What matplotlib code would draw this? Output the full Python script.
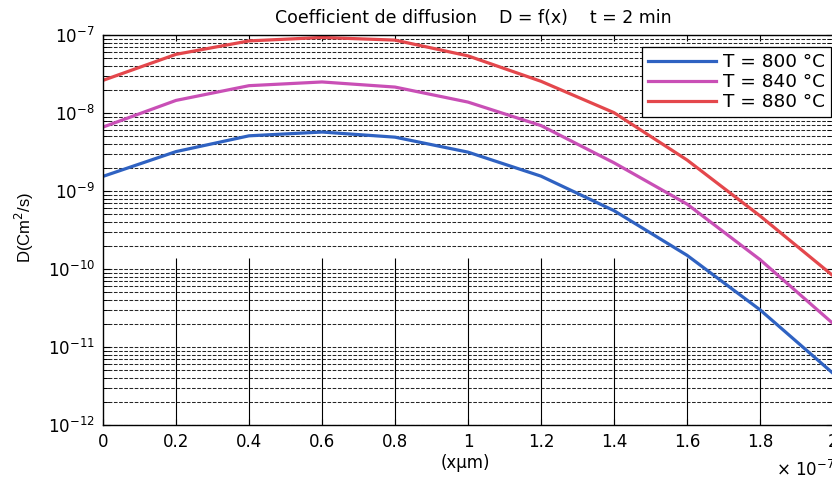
import math
import matplotlib
matplotlib.use("Agg")
import matplotlib.pyplot as plt
from matplotlib.ticker import LogLocator, FixedLocator, FuncFormatter, NullFormatter

# Depth (units of 1e-7 m, i.e. 0..0.2 µm)
x = [0.0, 0.2, 0.4, 0.6, 0.8, 1.0, 1.2, 1.4, 1.6, 1.8, 2.0]

# Diffusion coefficient D (cm^2/s) at three temperatures
d_800 = [1.54e-9, 3.2e-9, 5.1e-9, 5.7e-9, 4.9e-9, 3.15e-9, 1.55e-9,
         5.6e-10, 1.5e-10, 3.0e-11, 4.6e-12]
d_840 = [6.6e-9, 1.45e-8, 2.24e-8, 2.5e-8, 2.15e-8, 1.38e-8, 6.9e-9,
         2.3e-9, 6.8e-10, 1.32e-10, 2.0e-11]
d_880 = [2.62e-8, 5.65e-8, 8.4e-8, 9.3e-8, 8.6e-8, 5.4e-8, 2.55e-8,
         1.01e-8, 2.5e-9, 4.8e-10, 8.2e-11]

labels = ["T = 800 °C", "T = 840 °C", "T = 880 °C"]
colors = ["#2f62c2", "#c94fb6", "#e4474c"]

x_ticks = [0, 0.2, 0.4, 0.6, 0.8, 1, 1.2, 1.4, 1.6, 1.8, 2]
x_tick_labels = ["0", "0.2", "0.4", "0.6", "0.8", "1", "1.2", "1.4", "1.6", "1.8", "2"]
y_ticks = [1e-12, 1e-11, 1e-10, 1e-9, 1e-8, 1e-7]

plt.rcParams["font.family"] = ["DejaVu Sans"]
plt.rcParams["mathtext.fontset"] = "dejavusans"

fig = plt.figure(figsize=(8.32, 4.78), dpi=100)
ax = fig.add_axes([103 / 832, 53 / 478, 730 / 832, 390 / 478])

ax.set_yscale("log")
ax.set_xlim(0, 2)
ax.set_ylim(1e-12, 1e-7)

# horizontal dashed grid on every decade and sub-decade
ax.yaxis.set_major_locator(FixedLocator(y_ticks))
ax.yaxis.set_minor_locator(LogLocator(base=10, subs=range(2, 10), numticks=20))
ax.yaxis.set_minor_formatter(NullFormatter())
ax.grid(True, which="both", axis="y", color="#262626", linewidth=0.75,
        linestyle=(0, (3.5, 1.5)))

# partial vertical rules in the lower part of the plot
ax.vlines(x_ticks[1:-1], 1e-12, 1.4e-10, colors="black", linewidth=0.8)

for ys, lab, col in zip([d_800, d_840, d_880], labels, colors):
    ax.plot(x, ys, color=col, linewidth=2.3, label=lab, solid_joinstyle="round")

ax.xaxis.set_major_locator(FixedLocator(x_ticks))
ax.set_xticklabels(x_tick_labels)
ax.yaxis.set_major_formatter(
    FuncFormatter(lambda v, p: r"$10^{%d}$" % round(math.log10(v))))

ax.tick_params(axis="both", which="both", direction="in", top=True, right=True,
               labelsize=12, colors="black")
ax.tick_params(axis="x", which="major", length=4, pad=6)
ax.tick_params(axis="y", which="major", length=5, pad=6)
ax.tick_params(axis="y", which="minor", length=4)
for s in ax.spines.values():
    s.set_linewidth(1.0)
    s.set_color("black")

leg = ax.legend(loc="upper right", bbox_to_anchor=(0.997, 0.969),
                borderaxespad=0, fancybox=False, framealpha=1,
                edgecolor="black", fontsize=13.3, handlelength=3.7,
                handletextpad=0.35, labelspacing=0.12, borderpad=0.32)
leg.get_frame().set_linewidth(0.9)

fig.text(473 / 832, 1 - 18 / 478, "Coefficient de diffusion    D = f(x)    t = 2 min",
         ha="center", va="center", fontsize=12.5)
fig.text(465 / 832, 1 - 463 / 478, "(xμm)", ha="center", va="center", fontsize=12)
fig.text(776 / 832, 1 - 470 / 478, r"× 10$^{-7}$", ha="left", va="center",
         fontsize=12)
fig.text(24 / 832, 1 - 228 / 478, "D(Cm$^2$/s)", rotation=90, ha="center",
         va="center", fontsize=12, family=["Liberation Sans Narrow", "Liberation Sans"])

fig.savefig("out.png", dpi=100)
